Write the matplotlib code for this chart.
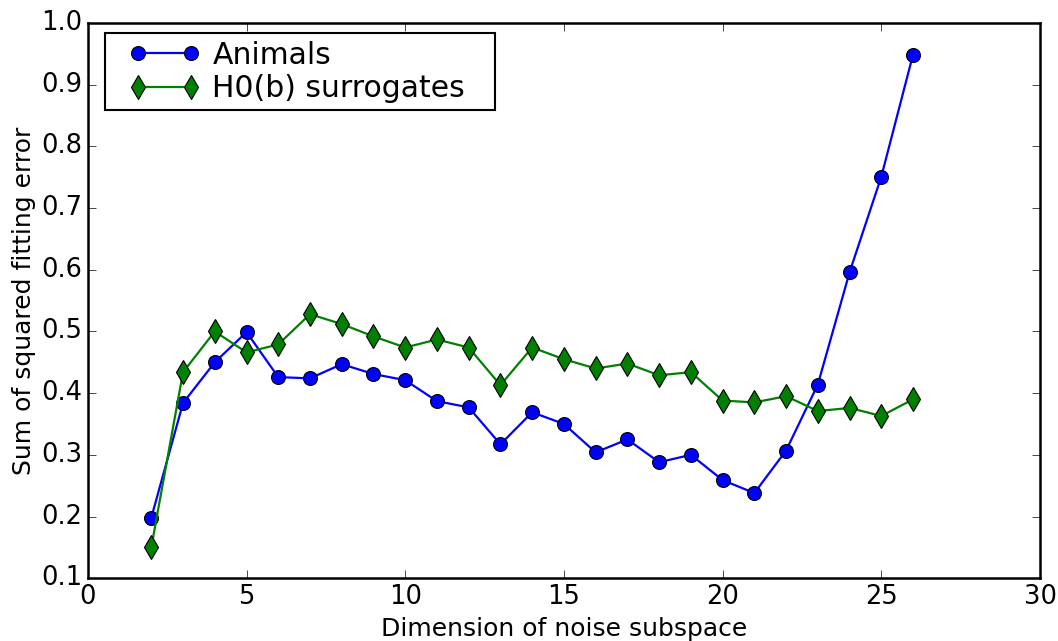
import matplotlib
matplotlib.use('Agg')
import matplotlib.pyplot as plt
from matplotlib.legend_handler import HandlerLine2D

# dimension of noise subspace
dims = list(range(2, 27))
animals = [0.198, 0.384, 0.450, 0.499, 0.426, 0.424, 0.447, 0.431, 0.421, 0.387,
           0.377, 0.317, 0.369, 0.350, 0.304, 0.325, 0.288, 0.300, 0.259, 0.238,
           0.307, 0.414, 0.596, 0.751, 0.949]
surrogates = [0.150, 0.434, 0.500, 0.466, 0.479, 0.528, 0.512, 0.492, 0.474, 0.487,
              0.474, 0.413, 0.474, 0.455, 0.440, 0.448, 0.429, 0.434, 0.388, 0.385,
              0.395, 0.371, 0.376, 0.363, 0.390]

plt.style.use('classic')
plt.rcParams['font.family'] = ['DejaVu Sans']

fig = plt.figure(figsize=(10.58, 6.41), dpi=100, facecolor='white')
ax = fig.add_axes([0.083, 0.098, 0.900, 0.866])
l1, = ax.plot(dims, animals, 'o-', color='blue', lw=1.6, ms=10, mec='black', mew=0.8,
              label='Animals')
l2, = ax.plot(dims, surrogates, 'd-', color='green', lw=1.6, ms=12, mec='black', mew=0.8,
              label='H0(b) surrogates')
ax.set_xlim(0, 30)
ax.set_ylim(0.1, 1.0)
ax.set_xticks([0, 5, 10, 15, 20, 25, 30])
ax.set_yticks([0.1, 0.2, 0.3, 0.4, 0.5, 0.6, 0.7, 0.8, 0.9, 1.0])
ax.tick_params(labelsize=18.5, length=6)
for s in ax.spines.values():
    s.set_linewidth(1.8)
ax.set_xlabel('Dimension of noise subspace', fontsize=18, labelpad=5)
ax.set_ylabel('Sum of squared fitting error', fontsize=18, labelpad=4)

# markers pulled in from the ends of the handle, like the old legend
hm = {l1: HandlerLine2D(numpoints=2, marker_pad=0.85),
      l2: HandlerLine2D(numpoints=2, marker_pad=0.85)}
leg = ax.legend(loc='upper left', bbox_to_anchor=(0.0179, 0, 0.4097, 0.982),
                mode='expand', borderaxespad=0, numpoints=2, fontsize=21.5,
                handlelength=3.5, handletextpad=-0.15, labelspacing=0.15,
                borderpad=0.25, handler_map=hm)
leg.get_frame().set_linewidth(1.5)
fig.savefig('out.png', dpi=100, facecolor='white')
